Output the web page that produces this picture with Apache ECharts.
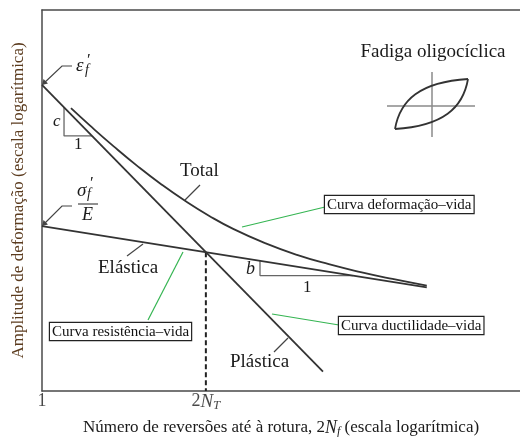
<!DOCTYPE html>
<html>
<head>
<meta charset="utf-8">
<script src="https://cdn.jsdelivr.net/npm/echarts@6/dist/echarts.min.js"></script>
<style>
  html, body { margin: 0; padding: 0; background: #fff; }
  #chart { width: 520px; height: 437px; }
</style>
</head>
<body>
<div id="chart"></div>
<script>
// Strain-life (Coffin-Manson / Basquin) lines on log-log axes: [2Nf, strain amplitude]
const elasticLine = [[1, 0.0199], [67600, 0.00655]];          // σ'f/E · (2N)^b
const plasticLine = [[1, 0.257], [3365, 0.00142]];            // ε'f · (2N)^c
const totalCurve = [
  [2.31, 0.1686], [3.98, 0.1234], [7.94, 0.0844], [15.8, 0.0590],
  [31.6, 0.0423], [63.1, 0.0313], [126, 0.0239], [251, 0.0189],
  [631, 0.0146], [1585, 0.0118], [3981, 0.00996], [10000, 0.00863],
  [25119, 0.00762], [67600, 0.00675]
];
const transitionLine = [[114, 0.01239], [114, 0.001]];        // 2N_T
const slopeC = [[1.89, 0.171], [1.89, 0.102], [4.24, 0.102]];
const slopeB = [[545, 0.0106], [545, 0.0081], [8020, 0.0081]];
const xTickLabels = [
  { value: 1, text: '{a|1}' },
  { value: 114, text: '{a|2}{n|N}{s|T}' }
];

const SERIF = '"Liberation Serif", "DejaVu Serif", serif';
const INK = '#333';
const AXIS = '#4a4a4a';

const chart = echarts.init(document.getElementById('chart'), null, { renderer: 'canvas' });

const lineStyle = { color: INK, width: 1.8 };
const richSub = (size) => ({
  a: { fontFamily: SERIF, fontSize: size, color: '#1a1a1a', verticalAlign: 'top', lineHeight: 20 },
  n: { fontFamily: SERIF, fontSize: size + 1, fontStyle: 'italic', color: '#1a1a1a', verticalAlign: 'top', lineHeight: 20 },
  s: { fontFamily: SERIF, fontSize: Math.round(size * 0.7), fontStyle: 'italic', color: '#1a1a1a', verticalAlign: 'top', lineHeight: 20, padding: [7, 0, 0, 0] }
});

chart.setOption({
  animation: false,
  backgroundColor: '#fff',
  grid: { left: 42, top: 10, right: 0, bottom: 46, outerBoundsMode: 'none', containLabel: false },
  xAxis: [{
    type: 'log', logBase: 10, min: 1, max: 1e6,
    axisLine: { show: true, onZero: false, lineStyle: { color: AXIS, width: 1.5 } },
    axisTick: { show: false }, axisLabel: { show: false }, splitLine: { show: false },
    name: '{a|Número de reversões até à rotura, 2}{n|N}{s|f}{a| (escala logarítmica)}',
    nameLocation: 'middle', nameGap: 28,
    nameTextStyle: { rich: richSub(17) }
  }, {
    type: 'value', position: 'top', min: 0, max: 1,
    axisLine: { show: true, onZero: false, lineStyle: { color: AXIS, width: 1.5 } },
    axisTick: { show: false }, axisLabel: { show: false }, splitLine: { show: false }
  }],
  yAxis: {
    type: 'log', logBase: 10, min: 0.001, max: 1,
    axisLine: { show: true, onZero: false, lineStyle: { color: AXIS, width: 1.5 } },
    axisTick: { show: false }, axisLabel: { show: false }, splitLine: { show: false },
    name: 'Amplitude de deformação (escala logarítmica)',
    nameLocation: 'middle', nameGap: 15, nameRotate: 90,
    nameTextStyle: { fontFamily: SERIF, fontSize: 17, color: '#5b3b1e' }
  },
  series: [
    { name: 'Elástica', type: 'line', data: elasticLine, symbol: 'none', lineStyle, z: 3 },
    { name: 'Plástica', type: 'line', data: plasticLine, symbol: 'none', lineStyle, z: 3 },
    { name: 'Total', type: 'line', data: totalCurve, symbol: 'none', smooth: true, lineStyle, z: 3 },
    {
      name: '2NT', type: 'line', data: transitionLine, symbol: 'none',
      lineStyle: { color: '#222', width: 2, type: [5, 3] }, z: 2
    },
    { name: 'c', type: 'line', data: slopeC, symbol: 'none', lineStyle: { color: '#666', width: 1.3 }, z: 2 },
    { name: 'b', type: 'line', data: slopeB, symbol: 'none', lineStyle: { color: '#666', width: 1.3 }, z: 2 },
    {
      name: 'ticks', type: 'scatter', symbolSize: 0, silent: true,
      data: xTickLabels.map(t => ({ value: [t.value, 0.001], label: { formatter: t.text } })),
      label: { show: true, position: 'bottom', distance: 1, rich: richSub(18) }
    }
  ]
});

// Annotations: leaders, symbols, boxed curve names and the hysteresis loop sketch
const txt = (x, y, text, size, extra) => ({
  type: 'text', x, y, silent: true,
  style: Object.assign({ text, font: size + 'px ' + SERIF, fill: '#1a1a1a' }, extra || {})
});
const ital = (x, y, text, size) => txt(x, y, text, size, { font: 'italic ' + size + 'px ' + SERIF });
const leader = (pts, color, w) => ({
  type: 'polyline', silent: true, shape: { points: pts },
  style: { stroke: color || '#444', lineWidth: w || 1.2, fill: null }
});
const boxed = (x, y, text) => txt(x, y, text, 15, {
  fill: '#111', borderColor: '#222', borderWidth: 1.2, padding: [1, 2, 0, 2],
  lineHeight: 16, backgroundColor: '#fff'
});
const GREEN = '#35b552';

const graphics = [
  // ε'f
  leader([[43, 84], [62, 66], [72, 66]]),
  { type: 'polygon', silent: true, shape: { points: [[42, 85], [43.5, 79], [48, 83.5]] }, style: { fill: '#444' } },
  ital(76, 56, 'ε', 19),
  txt(87, 52, '′', 17),
  ital(85, 63, 'f', 14),
  // σ'f / E
  leader([[43, 225], [62, 206], [72, 206]]),
  { type: 'polygon', silent: true, shape: { points: [[42, 226], [43.5, 220], [48, 224.5]] }, style: { fill: '#444' } },
  ital(77, 181, 'σ', 19),
  txt(90, 175, '′', 17),
  ital(87, 187, 'f', 14),
  { type: 'line', silent: true, shape: { x1: 78, y1: 204, x2: 98, y2: 204 }, style: { stroke: '#222', lineWidth: 1 } },
  ital(82, 206, 'E', 18),
  // slope labels
  ital(53, 113, 'c', 17),
  txt(74, 136, '1', 17),
  ital(246, 260, 'b', 18),
  txt(303, 279, '1', 17),
  // curve names
  txt(180, 162, 'Total', 19),
  leader([[185, 200], [200, 185]]),
  txt(98, 259, 'Elástica', 19),
  leader([[127, 256], [143, 244]]),
  txt(230, 353, 'Plástica', 19),
  leader([[274, 352], [288, 338]]),
  // boxed callouts
  leader([[242, 227], [325, 207]], GREEN, 1.2),
  boxed(325, 196, 'Curva deformação–vida'),
  leader([[148, 320], [183, 252]], GREEN, 1.2),
  boxed(50, 323, 'Curva resistência–vida'),
  leader([[272, 314], [339, 325]], GREEN, 1.2),
  boxed(339, 317, 'Curva ductilidade–vida'),
  // low-cycle fatigue sketch
  txt(433, 43, 'Fadiga oligocíclica', 19, { textAlign: 'center' }),
  { type: 'line', silent: true, shape: { x1: 387, y1: 106, x2: 475, y2: 106 }, style: { stroke: '#8a8a8a', lineWidth: 1.5 } },
  { type: 'line', silent: true, shape: { x1: 432, y1: 72, x2: 432, y2: 137 }, style: { stroke: '#8a8a8a', lineWidth: 1.5 } },
  {
    type: 'bezierCurve', silent: true,
    shape: { x1: 395, y1: 129, cpx1: 400, cpy1: 100, cpx2: 420, cpy2: 82, x2: 468, y2: 79 },
    style: { stroke: '#333', lineWidth: 1.8, fill: null }
  },
  {
    type: 'bezierCurve', silent: true,
    shape: { x1: 468, y1: 79, cpx1: 463, cpy1: 108, cpx2: 443, cpy2: 126, x2: 395, y2: 129 },
    style: { stroke: '#333', lineWidth: 1.8, fill: null }
  }
];

chart.setOption({ graphic: graphics });
</script>
</body>
</html>
